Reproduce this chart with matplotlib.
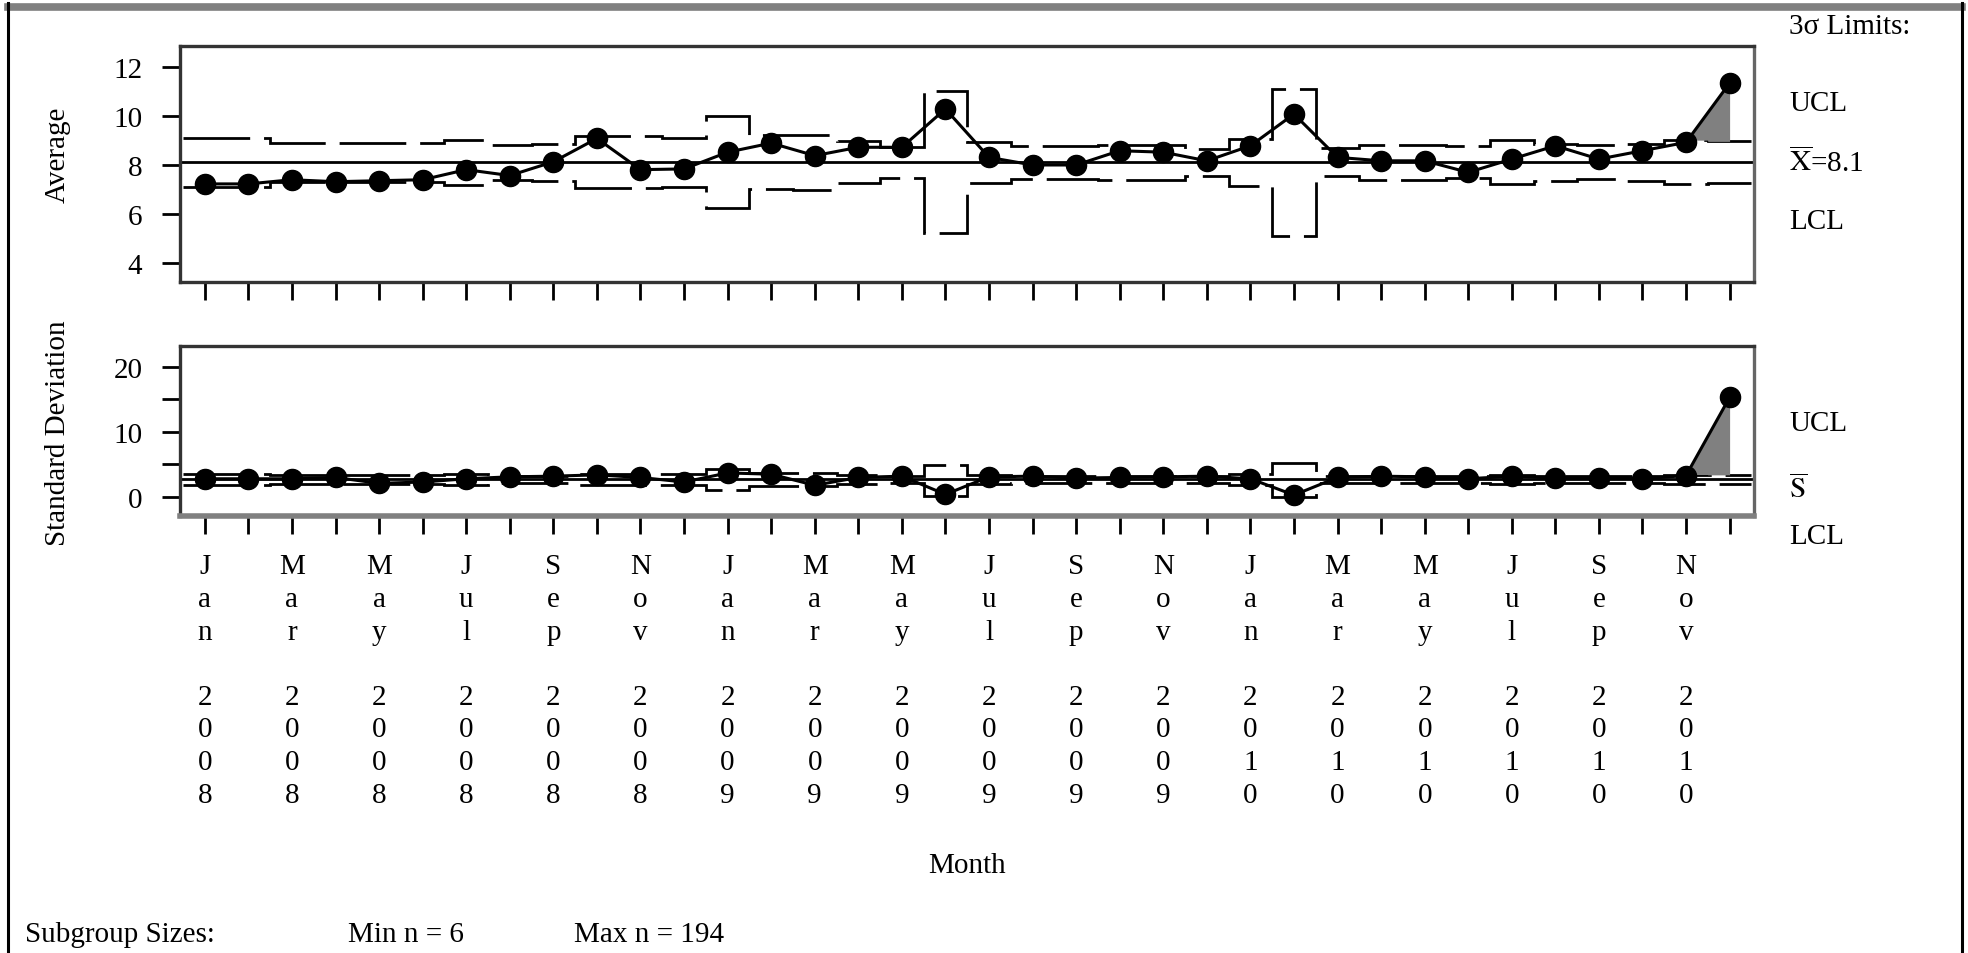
import numpy as np
import matplotlib.pyplot as plt
from matplotlib.lines import Line2D

plt.rcParams['font.family'] = ['Liberation Serif', 'DejaVu Serif']
plt.rcParams['mathtext.fontset'] = 'stix'

W, H = 1968, 954
FS = 21

# monthly subgroups, Jan 2008 .. Dec 2010
months = ['Jan', 'Feb', 'Mar', 'Apr', 'May', 'Jun',
          'Jul', 'Aug', 'Sep', 'Oct', 'Nov', 'Dec'] * 3
years = ['2008'] * 12 + ['2009'] * 12 + ['2010'] * 12

# subgroup averages and 3-sigma limits
avg = [7.23, 7.23, 7.40, 7.32, 7.36, 7.40, 7.81, 7.57, 8.13, 9.08, 7.81, 7.84,
       8.52, 8.89, 8.38, 8.72, 8.72, 10.28, 8.31, 8.00, 8.00, 8.58, 8.52, 8.17,
       8.78, 10.07, 8.31, 8.17, 8.17, 7.70, 8.24, 8.78, 8.24, 8.58, 8.92, 11.33]
avg_ucl = [9.11, 9.11, 8.91, 8.91, 8.91, 8.91, 9.03, 8.83, 8.86, 9.16, 9.16, 9.11,
           9.99, 9.21, 9.23, 8.96, 8.73, 10.99, 8.94, 8.77, 8.77, 8.83, 8.83, 8.67,
           9.06, 11.11, 8.68, 8.83, 8.83, 8.76, 9.01, 8.86, 8.81, 8.86, 9.01, 8.96]
avg_lcl = [7.11, 7.11, 7.31, 7.31, 7.31, 7.31, 7.19, 7.39, 7.36, 7.06, 7.06, 7.11,
           6.23, 7.01, 6.99, 7.26, 7.49, 5.23, 7.28, 7.45, 7.45, 7.39, 7.39, 7.55,
           7.16, 5.11, 7.54, 7.39, 7.39, 7.46, 7.21, 7.36, 7.41, 7.36, 7.21, 7.26]
avg_center = 8.11

# subgroup standard deviations and limits
sd = [2.8, 2.8, 2.8, 3.0, 2.1, 2.3, 2.8, 3.1, 3.2, 3.4, 3.0, 2.3,
      3.7, 3.5, 1.8, 3.0, 3.2, 0.4, 3.1, 3.2, 2.9, 3.0, 3.1, 3.2,
      2.8, 0.3, 3.0, 3.2, 3.1, 2.8, 3.2, 2.9, 2.9, 2.8, 3.3, 15.3]
sd_ucl = [3.6, 3.6, 3.4, 3.4, 3.4, 3.4, 3.5, 3.3, 3.3, 3.6, 3.6, 3.6,
          4.3, 3.7, 3.7, 3.4, 3.3, 4.9, 3.4, 3.3, 3.3, 3.3, 3.3, 3.25,
          3.5, 5.2, 3.25, 3.3, 3.3, 3.25, 3.45, 3.3, 3.3, 3.3, 3.45, 3.4]
sd_lcl = [1.8, 1.8, 2.0, 2.0, 2.0, 2.0, 1.9, 2.1, 2.1, 1.8, 1.8, 1.8,
          1.1, 1.7, 1.7, 2.0, 2.15, 0.2, 2.0, 2.1, 2.1, 2.1, 2.1, 2.15,
          1.9, 0.05, 2.15, 2.1, 2.1, 2.15, 1.95, 2.1, 2.1, 2.1, 1.95, 2.0]
sd_center = 2.7


def fx(px):
    return px / W


def fy(py):
    return 1 - py / H


def draw_chart(ax, vals, ucl, lcl, center):
    n = len(vals)
    x = np.arange(n)
    vals = np.asarray(vals)
    ucl = np.asarray(ucl)
    edges = np.arange(n + 1) - 0.5
    for lim in (ucl, lcl):
        ax.stairs(lim, edges, baseline=None, color='k', lw=2.0,
                  linestyle=(0, (24, 5)))
    ax.axhline(center, color='k', lw=2.0)
    # shade the excursion on the segments touching an out-of-control subgroup
    out = vals > ucl
    xs = np.linspace(0, n - 1, 4000)
    ys = np.interp(xs, x, vals)
    cell = np.clip(np.floor(xs + 0.5).astype(int), 0, n - 1)
    seg = np.clip(np.floor(xs).astype(int), 0, n - 2)
    lim = ucl[cell]
    flagged = out[seg] | out[seg + 1]
    ax.fill_between(xs, lim, ys, where=(ys > lim) & flagged,
                    color='#808080', lw=0)
    ax.plot(x, vals, color='k', lw=2.2, marker='o', ms=14.5,
            mfc='k', mec='k', zorder=5)
    ax.set_xlim(-0.57, 35.56)
    ax.set_xticks(x)
    ax.tick_params(axis='both', which='both', direction='out', length=13,
                   width=2, labelsize=FS, colors='k')
    ax.tick_params(axis='y', pad=14)
    for side in ('top', 'left', 'bottom', 'right'):
        ax.spines[side].set_linewidth(2.4)
        ax.spines[side].set_color('#333333')
    ax.spines['right'].set_color('#666666')


fig = plt.figure(figsize=(W / 100, H / 100), dpi=100)

ax1 = fig.add_axes([fx(180), fy(283), fx(1754) - fx(180), fy(47) - fy(283)])
draw_chart(ax1, avg, avg_ucl, avg_lcl, avg_center)
ax1.set_ylim(3.24, 12.84)
ax1.set_yticks([4, 6, 8, 10, 12])
ax1.set_xticklabels([])

ax2 = fig.add_axes([fx(180), fy(517), fx(1754) - fx(180), fy(347) - fy(517)])
draw_chart(ax2, sd, sd_ucl, sd_lcl, sd_center)
ax2.set_ylim(-2.92, 23.2)
ax2.set_yticks([0, 10, 20])
ax2.set_yticks([5, 15], minor=True)
ax2.spines['bottom'].set_color('#808080')
ax2.spines['bottom'].set_linewidth(4)

xlabels = []
for i, (m, y) in enumerate(zip(months, years)):
    if i % 2 == 0:
        xlabels.append('\n'.join(m) + '\n\n' + '\n'.join(y))
    else:
        xlabels.append('')
ax2.set_xticklabels(xlabels, linespacing=1.33, va='top')
ax2.tick_params(axis='x', pad=14)

# axis titles
fig.text(fx(58), fy(155), 'Average', rotation=90, ha='center', va='center',
         fontsize=FS)
fig.text(fx(58), fy(433), 'Standard Deviation', rotation=90, ha='center',
         va='center', fontsize=FS)
fig.text(fx(967), fy(866), 'Month', ha='center', va='center', fontsize=FS)

# limit legend on the right
rx = fx(1789)
fig.text(rx, fy(27), '3\u03c3 Limits:', ha='left', va='center', fontsize=FS)
fig.text(rx, fy(104), 'UCL', ha='left', va='center', fontsize=FS)
fig.text(rx, fy(163), r'$\overline{\mathrm{X}}$=8.1', ha='left', va='center',
         fontsize=FS)
fig.text(rx, fy(222), 'LCL', ha='left', va='center', fontsize=FS)
fig.text(rx, fy(424), 'UCL', ha='left', va='center', fontsize=FS)
fig.text(rx, fy(490), r'$\overline{\mathrm{S}}$', ha='left', va='center',
         fontsize=FS)
fig.text(rx, fy(537), 'LCL', ha='left', va='center', fontsize=FS)

# subgroup size note
fig.text(fx(25), fy(935), 'Subgroup Sizes:', ha='left', va='center', fontsize=FS)
fig.text(fx(348), fy(935), 'Min n = 6', ha='left', va='center', fontsize=FS)
fig.text(fx(574), fy(935), 'Max n = 194', ha='left', va='center', fontsize=FS)

# outer border
fig.add_artist(Line2D([fx(8), fx(1962)], [fy(7.5), fy(7.5)], color='#808080',
                      lw=5.5, transform=fig.transFigure))
fig.add_artist(Line2D([fx(8), fx(8)], [fy(4), 0], color='k', lw=2.2,
                      transform=fig.transFigure))
fig.add_artist(Line2D([fx(1962), fx(1962)], [fy(4), 0], color='k', lw=2.2,
                      transform=fig.transFigure))

fig.savefig('out.png', dpi=100, facecolor='white')
